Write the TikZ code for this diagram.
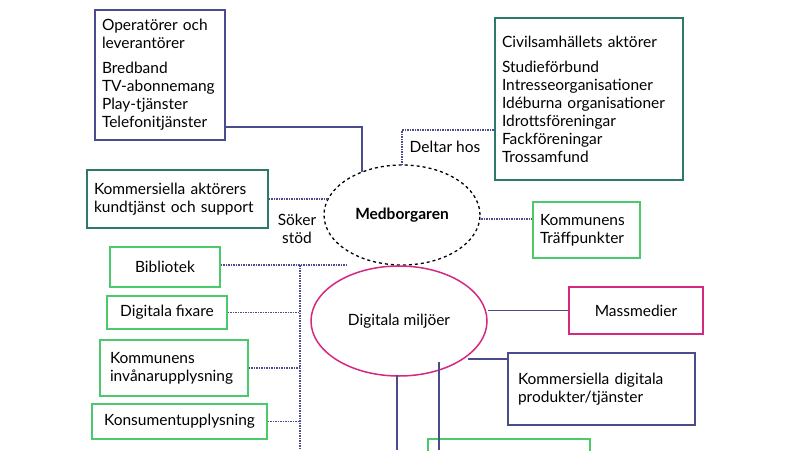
\documentclass[tikz,border=0pt]{standalone}
\usepackage{fontspec}
\setmainfont{Lato}
\usetikzlibrary{positioning,shapes.geometric}
\definecolor{darkblue}{HTML}{4B4C8C}
\definecolor{teal}{HTML}{2D7A6A}
\definecolor{lightgreen}{HTML}{4CC96A}
\definecolor{magenta}{HTML}{D6287F}
\tikzset{
	box/.style={draw,rectangle,line width=1.5pt,align=left,inner sep=0pt,font=\fontsize{15.5}{18}\selectfont},
	link/.style={darkblue,line width=1.8pt},
	seek/.style={darkblue,densely dotted,line width=1.5pt}
}
\begin{document}
\begin{tikzpicture}[x=1pt,y=-1pt]
	\useasboundingbox (0,0) rectangle (800,450);
	\clip (0,0) rectangle (800,450);
	\node[box,darkblue,minimum width=130,minimum height=130,text width=116,text=black] (oper) at (160,75) {Operatörer och\\leverantörer\\[7pt]Bredband\\TV-abonnemang\\Play-tjänster\\Telefonitjänster};
	\node[box,teal,minimum width=188,minimum height=162,text width=174,text=black] (civil) at (589,99) {Civilsamhällets aktörer\\[7pt]Studieförbund\\Intresseorganisationer\\Idéburna organisationer\\Idrottsföreningar\\Fackföreningar\\Trossamfund};
	\node[box,teal,minimum width=181,minimum height=58,text width=167,text=black] (komm) at (177.5,199) {Kommersiella aktörers\\kundtjänst och support};
	\node[box,lightgreen,minimum width=107,minimum height=56,text width=93,text=black] (traff) at (586.5,230) {Kommunens\\Träffpunkter};
	\node[box,lightgreen,minimum width=110,minimum height=40,align=center,text=black] (bibl) at (165,267) {Bibliotek};
	\node[box,lightgreen,minimum width=120,minimum height=33,align=center,text=black] (fix) at (167,312.5) {Digitala fixare};
	\node[box,lightgreen,minimum width=148,minimum height=56,text width=128,text=black] (inv) at (174,368) {Kommunens\\invånarupplysning};
	\node[box,lightgreen,minimum width=175,minimum height=35,align=center,text=black] (kons) at (179.5,421.5) {Konsumentupplysning};
	\node[box,magenta,minimum width=134,minimum height=47,align=center,text=black] (mass) at (636,310.5) {Massmedier};
	\node[box,darkblue,minimum width=187,minimum height=72,text width=167,text=black] (digprod) at (601.5,389) {Kommersiella digitala\\produkter/tjänster};
	\node[box,lightgreen,minimum width=162,minimum height=60] (bottom) at (509,469) {};
	\node[draw,dashed,ellipse,line width=1.3pt,inner sep=0pt,minimum width=156,minimum height=100,font=\fontsize{15.5}{18}\selectfont\bfseries] (medb) at (402,215) {Medborgaren};
	\node[draw,magenta,ellipse,line width=1.5pt,inner sep=0pt,minimum width=176,minimum height=110,text=black,font=\fontsize{15.5}{18}\selectfont] (digi) at (399,321) {Digitala miljöer};
	\node[font=\fontsize{15.5}{18}\selectfont] (deltar) at (445,147) {Deltar hos};
	\node[font=\fontsize{15.5}{18}\selectfont,align=center] (soker) at (297,229) {Söker\\stöd};
	% connectors
	\coordinate (c1) at (362,127);
	\coordinate (c2) at (402,130);
	\coordinate (c3) at (300,265);
	\draw[link] (oper.east |- c1) -- (c1) -- (362,172);
	\draw[seek] (402,165) -- (c2) -- (civil.west |- c2);
	\draw[seek] (komm.east) -- (328,199);
	\draw[seek] (481,219) -- (traff.west |- 0,219);
	\draw[seek] (bibl.east |- c3) -- (346,265);
	\draw[seek] (c3) -- (300,450);
	\draw[seek] (fix.east) -- (fix.east -| c3);
	\draw[seek] (inv.east) -- (inv.east -| c3);
	\draw[seek] (kons.east) -- (kons.east -| c3);
	\draw[link] (digi.east |- mass.west) -- (mass.west);
	\draw[link] (468,359) -- (digprod.west |- 0,359);
	\draw[link] (397,375) -- (397,450);
	\draw[link] (439,362) -- (439,450);
\end{tikzpicture}
\end{document}
